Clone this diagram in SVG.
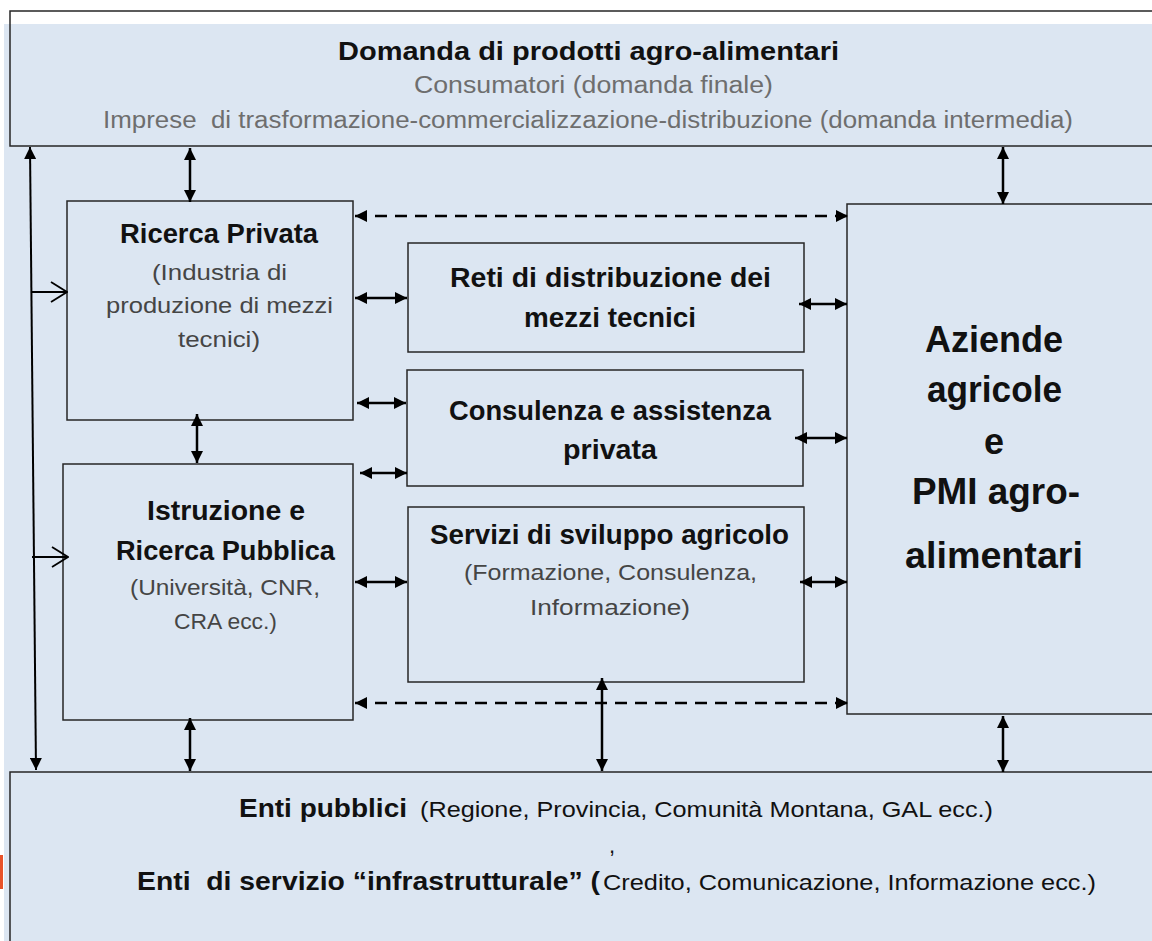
<svg xmlns="http://www.w3.org/2000/svg" width="1152" height="941" viewBox="0 0 1152 941">
<style>
text{font-family:"Liberation Sans",Arial,sans-serif;text-anchor:middle;fill:#111}
.b{font-weight:bold}
.t{font-size:27px;font-weight:bold}
.s{font-size:22px;fill:#454545}
.g{font-size:23px;fill:#6e6e6e}
.big{font-size:36px;font-weight:bold}
.box{fill:none;stroke:#262626;stroke-width:1.5}
.c{fill:none;stroke:#000;stroke-width:2.5}
.d{fill:none;stroke:#000;stroke-width:2.5;stroke-dasharray:12 8}
.thin{fill:none;stroke:#000;stroke-width:2}
</style>
<defs>
<marker id="ah" viewBox="0 0 12 12" refX="12" refY="6" markerWidth="12" markerHeight="12" markerUnits="userSpaceOnUse" orient="auto-start-reverse">
<path d="M0,0 L12,6 L0,12 z" fill="#000"/>
</marker>
<marker id="oa" viewBox="0 0 18 22" refX="17" refY="11" markerWidth="18" markerHeight="22" markerUnits="userSpaceOnUse" orient="auto">
<path d="M1,1 L17,11 L1,21" fill="none" stroke="#000" stroke-width="1.8"/>
</marker>
</defs>
<rect x="0" y="0" width="1152" height="941" fill="#fff"/>
<rect x="4" y="24" width="1148" height="917" fill="#dce6f2"/>
<rect x="0" y="855" width="3" height="34" fill="#e8532b"/>

<g id="domanda">
<rect class="box" x="10" y="11" width="1160" height="135"/>
<text class="b" x="588.5" y="60" font-size="26" textLength="501" lengthAdjust="spacingAndGlyphs">Domanda di prodotti agro-alimentari</text>
<text class="g" x="593.5" y="93" textLength="359" lengthAdjust="spacingAndGlyphs">Consumatori (domanda finale)</text>
<text class="g" x="588" y="128" xml:space="preserve" textLength="970" lengthAdjust="spacingAndGlyphs">Imprese  di trasformazione-commercializzazione-distribuzione (domanda intermedia)</text>
</g>

<g id="ricerca-privata">
<rect class="box" x="67" y="201" width="286" height="219"/>
<text class="t" x="219" y="243" textLength="198" lengthAdjust="spacingAndGlyphs">Ricerca Privata</text>
<text class="s" x="219.5" y="280" textLength="135" lengthAdjust="spacingAndGlyphs">(Industria di</text>
<text class="s" x="219.5" y="313" textLength="227" lengthAdjust="spacingAndGlyphs">produzione di mezzi</text>
<text class="s" x="219" y="347" textLength="82" lengthAdjust="spacingAndGlyphs">tecnici)</text>
</g>

<g id="istruzione">
<rect class="box" x="63" y="464" width="290" height="256"/>
<text class="t" x="226" y="520" textLength="158" lengthAdjust="spacingAndGlyphs">Istruzione e</text>
<text class="t" x="225.5" y="560" textLength="219" lengthAdjust="spacingAndGlyphs">Ricerca Pubblica</text>
<text class="s" x="225" y="595" textLength="190" lengthAdjust="spacingAndGlyphs">(Università, CNR,</text>
<text class="s" x="225.5" y="629" textLength="103" lengthAdjust="spacingAndGlyphs">CRA ecc.)</text>
</g>

<g id="reti">
<rect class="box" x="408" y="243" width="396" height="109"/>
<text class="t" x="610.5" y="287" textLength="321" lengthAdjust="spacingAndGlyphs">Reti di distribuzione dei</text>
<text class="t" x="610" y="327" textLength="172" lengthAdjust="spacingAndGlyphs">mezzi tecnici</text>
</g>

<g id="consulenza">
<rect class="box" x="407" y="370" width="396" height="116"/>
<text class="t" x="610" y="420" textLength="322" lengthAdjust="spacingAndGlyphs">Consulenza e assistenza</text>
<text class="t" x="610" y="459" textLength="94" lengthAdjust="spacingAndGlyphs">privata</text>
</g>

<g id="servizi">
<rect class="box" x="408" y="507" width="396" height="175"/>
<text class="t" x="609.5" y="544" textLength="359" lengthAdjust="spacingAndGlyphs">Servizi di sviluppo agricolo</text>
<text class="s" x="610.5" y="580" textLength="293" lengthAdjust="spacingAndGlyphs">(Formazione, Consulenza,</text>
<text class="s" x="610" y="615" textLength="160" lengthAdjust="spacingAndGlyphs">Informazione)</text>
</g>

<g id="aziende">
<rect class="box" x="847" y="204" width="320" height="510"/>
<text class="big" x="994" y="352" textLength="138" lengthAdjust="spacingAndGlyphs">Aziende</text>
<text class="big" x="994.5" y="402" textLength="135" lengthAdjust="spacingAndGlyphs">agricole</text>
<text class="big" x="994" y="454">e</text>
<text class="big" x="996" y="504" textLength="168" lengthAdjust="spacingAndGlyphs">PMI agro-</text>
<text class="big" x="994" y="568" textLength="178" lengthAdjust="spacingAndGlyphs">alimentari</text>
</g>

<g id="enti">
<rect class="box" x="10" y="772" width="1160" height="200"/>
<text class="b" x="239" y="817" font-size="26" style="text-anchor:start" textLength="168" lengthAdjust="spacingAndGlyphs">Enti pubblici</text>
<text x="420" y="817" font-size="22" style="text-anchor:start" textLength="573" lengthAdjust="spacingAndGlyphs">(Regione, Provincia, Comunità Montana, GAL ecc.)</text>
<text x="612" y="853" font-size="22">,</text>
<text class="b" x="137" y="890" font-size="26" style="text-anchor:start" xml:space="preserve" textLength="463" lengthAdjust="spacingAndGlyphs">Enti  di servizio “infrastrutturale” (</text>
<text x="603" y="890" font-size="22" style="text-anchor:start" textLength="493" lengthAdjust="spacingAndGlyphs">Credito, Comunicazione, Informazione ecc.)</text>
</g>

<g id="connectors">
<line class="thin" x1="30" y1="147" x2="36" y2="770" marker-start="url(#ah)" marker-end="url(#ah)"/>
<line class="thin" x1="31" y1="292" x2="67" y2="292" marker-end="url(#oa)"/>
<line class="thin" x1="32" y1="557" x2="68" y2="557" marker-end="url(#oa)"/>
<line class="c" x1="190" y1="148" x2="190" y2="202" marker-start="url(#ah)" marker-end="url(#ah)"/>
<line class="c" x1="1003" y1="147" x2="1003" y2="204" marker-start="url(#ah)" marker-end="url(#ah)"/>
<line class="c" x1="197" y1="414" x2="197" y2="463" marker-start="url(#ah)" marker-end="url(#ah)"/>
<line class="c" x1="190" y1="718" x2="190" y2="771" marker-start="url(#ah)" marker-end="url(#ah)"/>
<line class="c" x1="602" y1="678" x2="602" y2="771" marker-start="url(#ah)" marker-end="url(#ah)"/>
<line class="c" x1="1003" y1="716" x2="1003" y2="772" marker-start="url(#ah)" marker-end="url(#ah)"/>
<line class="d" x1="355" y1="216" x2="848" y2="216" marker-start="url(#ah)" marker-end="url(#ah)"/>
<line class="d" x1="355" y1="703" x2="848" y2="703" marker-start="url(#ah)" marker-end="url(#ah)"/>
<line class="c" x1="355" y1="298" x2="407" y2="298" marker-start="url(#ah)" marker-end="url(#ah)"/>
<line class="c" x1="357" y1="403" x2="406" y2="403" marker-start="url(#ah)" marker-end="url(#ah)"/>
<line class="c" x1="360" y1="473" x2="407" y2="473" marker-start="url(#ah)" marker-end="url(#ah)"/>
<line class="c" x1="355" y1="582" x2="407" y2="582" marker-start="url(#ah)" marker-end="url(#ah)"/>
<line class="c" x1="799" y1="304" x2="847" y2="304" marker-start="url(#ah)" marker-end="url(#ah)"/>
<line class="c" x1="795" y1="438" x2="847" y2="438" marker-start="url(#ah)" marker-end="url(#ah)"/>
<line class="c" x1="800" y1="582" x2="847" y2="582" marker-start="url(#ah)" marker-end="url(#ah)"/>
</g>
</svg>
